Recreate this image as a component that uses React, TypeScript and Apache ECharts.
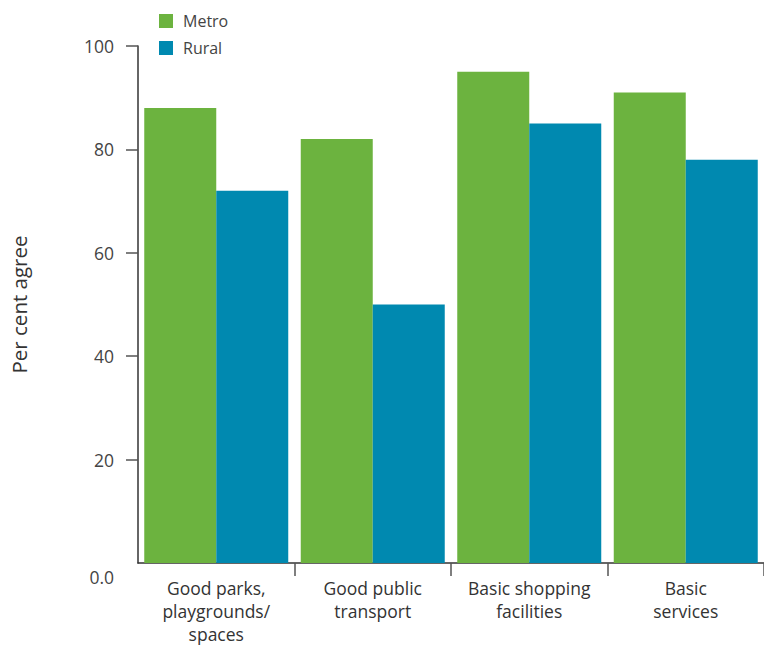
import React, { useEffect, useRef } from "react";
import * as echarts from "echarts";

const categories = ["Good parks,\nplaygrounds/\nspaces", "Good public\ntransport", "Basic shopping\nfacilities", "Basic\nservices"];
const metro = [88, 82, 95, 91];
const rural = [72, 50, 85, 78];
const seriesNames = ["Metro", "Rural"];
const yTicks = [20, 40, 60, 80, 100];

export default function App() {
  const ref = useRef<HTMLDivElement>(null);
  useEffect(() => {
    const chart = echarts.init(ref.current!, null, { renderer: "svg" });
    const font = "'Open Sans', sans-serif";
    chart.setOption({
      animation: false,
      textStyle: { fontFamily: font },
      legend: {
        orient: "vertical",
        left: 154,
        top: 8,
        itemWidth: 14,
        itemHeight: 14,
        itemGap: 11,
        icon: "rect",
        textStyle: { fontSize: 16, color: "#444", fontFamily: font, padding: [0, 0, 0, 5] },
        data: seriesNames,
      },
      grid: { left: 137, right: 0, top: 46, bottom: 88, containLabel: false },
      xAxis: {
        type: "category",
        data: categories,
        axisLine: { lineStyle: { color: "#333", width: 1.5 } },
        axisTick: { show: true, length: 13, interval: (i: number) => i !== 0, lineStyle: { color: "#555", width: 1.5 } },
        axisLabel: { color: "#333", fontSize: 17.5, lineHeight: 23, margin: 13, interval: 0, fontFamily: font },
      },
      yAxis: {
        type: "value",
        min: 0,
        max: 100,
        interval: 20,
        name: "Per cent agree",
        nameLocation: "middle",
        nameGap: 109,
        nameTextStyle: { fontSize: 20.5, color: "#333", fontFamily: font },
        splitLine: { show: false },
        axisLine: { show: true, lineStyle: { color: "#333", width: 1.5 } },
        axisTick: { show: true, length: 12, customValues: yTicks, lineStyle: { color: "#555", width: 1.5 } },
        axisLabel: {
          color: "#444",
          fontSize: 17.5,
          margin: 24,
          fontFamily: font,
          formatter: (v: number) => (v === 0 ? "{z|0.0}" : String(v)),
          rich: { z: { fontSize: 17.5, color: "#444", fontFamily: font, padding: [28, 0, 0, 0] } },
        },
      },
      series: [
        { name: seriesNames[0], type: "bar", data: metro, barWidth: 72, barGap: "0%", itemStyle: { color: "#6cb33f" } },
        { name: seriesNames[1], type: "bar", data: rural, barWidth: 72, barGap: "0%", itemStyle: { color: "#0089b0" } },
      ],
    });
    return () => chart.dispose();
  }, []);
  return <div ref={ref} style={{ width: 764, height: 651, position: "absolute", left: 0, top: 0 }} />;
}
